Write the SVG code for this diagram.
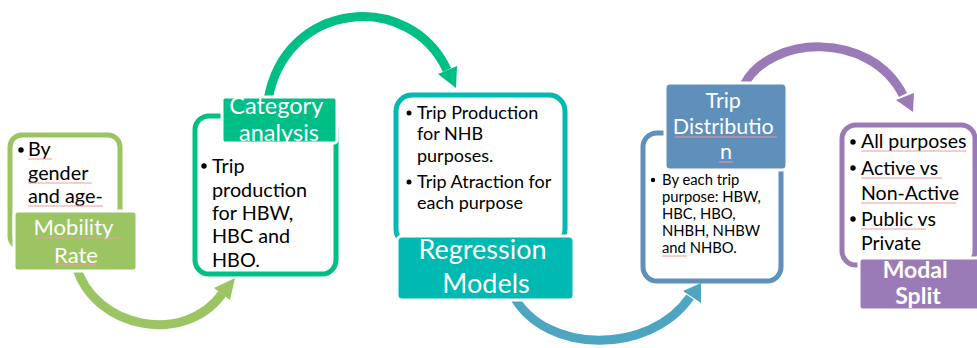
<svg xmlns="http://www.w3.org/2000/svg" width="977" height="348" viewBox="0 0 977 348">
  <defs>
    <style>
      text { font-family: Lato, "Open Sans", "Liberation Sans", sans-serif; }
      .box { fill: #ffffff; stroke-width: 5; }
      .lbl { stroke: #ffffff; stroke-width: 3; }
      .ltxt { fill: #ffffff; text-anchor: middle; }
      .btxt { fill: #000000; }
      .dot { fill: #000000; }
      .arc { fill: none; stroke-width: 9; }
      .spell { stroke: #ef9a9a; stroke-width: 1; fill: none; }
    </style>
  </defs>

  <!-- connectors: curved block arrows between the stages -->
  <g id="connectors">
    <path class="arc" stroke="#9BC563" d="M 76 266 C 95 330 185 345 222 294"/>
    <polygon fill="#9BC563" points="235,278 214,288 230,300"/>

    <path class="arc" stroke="#00BF86" d="M 268 100 C 285 0 410 -10 447 70"/>
    <polygon fill="#00BF86" points="456,88 438,74 457,66"/>

    <path class="arc" stroke="#4EA5C2" d="M 513 295 C 545 355 650 355 690 297"/>
    <polygon fill="#4EA5C2" points="701,283 683,291 701,303"/>

    <path class="arc" stroke="#9B7BB7" d="M 744 85 C 770 35 870 30 903 95"/>
    <polygon fill="#9B7BB7" points="913,112 896,100 914,93"/>
  </g>

  <!-- Mobility Rate -->
  <g id="node-mobility">
    <rect class="box" stroke="#9BC563" x="10" y="135" width="110" height="113" rx="12"/>
    <circle class="dot" cx="21" cy="150" r="2.7"/>
    <text class="btxt" font-size="19.8">
      <tspan x="28" y="156">By</tspan>
      <tspan x="28" y="180">gender</tspan>
      <tspan x="28" y="203">and age-</tspan>
    </text>
    <path class="spell" d="M28 159 H52 M28 183 H92 M28 206 H103"/>
    <rect class="lbl" fill="#9BC563" x="14" y="211" width="123" height="60" rx="4"/>
    <text class="ltxt" font-size="22">
      <tspan x="76" y="235">Mobility</tspan>
      <tspan x="76" y="263">Rate</tspan>
    </text>
    <path class="spell" d="M36 238 H121 M54 265 H97"/>
  </g>

  <!-- Category analysis -->
  <g id="node-category">
    <rect class="box" stroke="#00BF86" x="195" y="116" width="141" height="158" rx="14"/>
    <circle class="dot" cx="204" cy="166" r="2.7"/>
    <text class="btxt" font-size="19.8">
      <tspan x="212" y="173">Trip</tspan>
      <tspan x="212" y="197">production</tspan>
      <tspan x="212" y="220">for HBW,</tspan>
      <tspan x="212" y="243">HBC and</tspan>
      <tspan x="212" y="267">HBO.</tspan>
    </text>
    <rect class="lbl" fill="#00BF86" x="222" y="97" width="115" height="46" rx="3"/>
    <text class="ltxt" font-size="23.5">
      <tspan x="279" y="114">Category</tspan>
      <tspan x="279" y="141">analysis</tspan>
    </text>
  </g>

  <!-- Regression Models -->
  <g id="node-regression">
    <rect class="box" stroke="#00B9B2" x="396" y="95" width="169" height="150" rx="16"/>
    <circle class="dot" cx="409" cy="113" r="2.5"/>
    <circle class="dot" cx="409" cy="182" r="2.5"/>
    <text class="btxt" font-size="18">
      <tspan x="417" y="119">Trip Production</tspan>
      <tspan x="417" y="140">for NHB</tspan>
      <tspan x="417" y="162">purposes.</tspan>
      <tspan x="417" y="188">Trip Atraction for</tspan>
      <tspan x="417" y="209">each purpose</tspan>
    </text>
    <rect class="lbl" fill="#00B9B2" x="397" y="236" width="177" height="64" rx="5"/>
    <text class="ltxt" font-size="27">
      <tspan x="486" y="259">Regression</tspan>
      <tspan x="486" y="293">Models</tspan>
    </text>
  </g>

  <!-- Trip Distribution -->
  <g id="node-distribution">
    <rect class="box" stroke="#5F8FBB" x="643" y="133" width="138" height="148" rx="14"/>
    <circle class="dot" cx="653" cy="180" r="2.2"/>
    <text class="btxt" font-size="14.8">
      <tspan x="662" y="185">By each trip</tspan>
      <tspan x="662" y="202">purpose: HBW,</tspan>
      <tspan x="662" y="219">HBC, HBO,</tspan>
      <tspan x="662" y="236">NHBH, NHBW</tspan>
      <tspan x="662" y="253">and NHBO.</tspan>
    </text>
    <path class="spell" d="M662 256 H687"/>
    <rect class="lbl" fill="#5F8FBB" x="665" y="83" width="122" height="87" rx="5"/>
    <text class="ltxt" font-size="21.5">
      <tspan x="726" y="108">Trip</tspan>
      <tspan x="726" y="134">Distributio</tspan>
      <tspan x="726" y="159">n</tspan>
    </text>
    <path class="spell" d="M675 137 H777 M719 162 H733"/>
  </g>

  <!-- Modal Split -->
  <g id="node-modal">
    <rect class="box" stroke="#9B7BB7" x="842" y="125" width="133" height="140" rx="14"/>
    <circle class="dot" cx="853" cy="142" r="2.7"/>
    <circle class="dot" cx="853" cy="168" r="2.7"/>
    <circle class="dot" cx="853" cy="219" r="2.7"/>
    <text class="btxt" font-size="19.5">
      <tspan x="861" y="148">All purposes</tspan>
      <tspan x="861" y="175">Active vs</tspan>
      <tspan x="861" y="200">Non-Active</tspan>
      <tspan x="861" y="226">Public vs</tspan>
      <tspan x="861" y="250">Private</tspan>
    </text>
    <path class="spell" d="M861 151 H966 M861 178 H942 M861 203 H956 M861 229 H926"/>
    <rect class="lbl" fill="#9B7BB7" x="859" y="258" width="125" height="52" rx="4"/>
    <text class="ltxt" font-size="23" font-weight="bold">
      <tspan x="918" y="278">Modal</tspan>
      <tspan x="918" y="304">Split</tspan>
    </text>
  </g>
</svg>
